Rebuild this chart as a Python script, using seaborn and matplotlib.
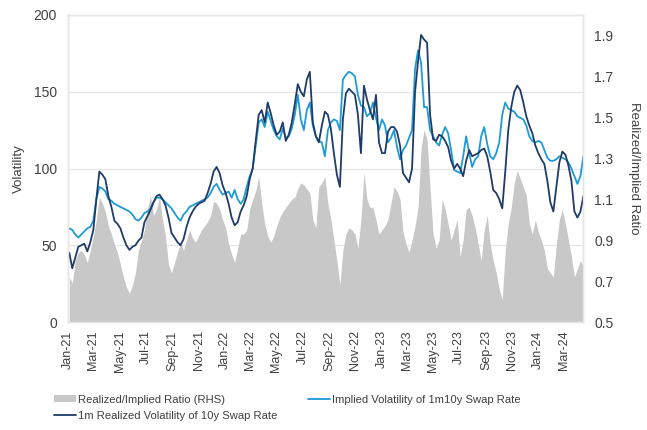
import numpy as np
import pandas as pd
import matplotlib
matplotlib.use("Agg")
import matplotlib.pyplot as plt
import matplotlib.dates as mdates
from matplotlib.patches import Patch
from matplotlib.lines import Line2D
import seaborn as sns

# ---------------- data (weekly) ----------------
start_date = "2021-01-04"

realized_vol = [
    45, 35, 42, 49, 50, 51, 46, 52, 60, 80, 98, 96, 93, 82, 75, 66, 64, 61, 55, 50,
    47, 49, 50, 53, 55, 65, 69, 73, 78, 82, 83, 80, 76, 68, 58, 55, 52, 50, 54, 62,
    68, 72, 75, 77, 78, 79, 84, 90, 98, 101, 97, 89, 84, 77, 68, 63, 65, 72, 76, 82,
    93, 100, 118, 135, 138, 130, 143, 136, 128, 122, 124, 130, 118, 122, 130, 142, 155, 150, 147, 158,
    163, 130, 121, 117, 128, 137, 135, 126, 110, 96, 88, 132, 149, 152, 150, 148, 135, 110, 154, 145,
    138, 132, 148, 117, 110, 110, 124, 127, 127, 124, 115, 97, 94, 91, 100, 150, 170, 187, 184, 182,
    135, 119, 118, 122, 121, 118, 114, 105, 100, 103, 100, 95, 105, 112, 108, 109, 110, 112, 113, 108,
    98, 86, 84, 80, 74, 98, 125, 140, 150, 154, 151, 143, 134, 128, 123, 115, 110, 106, 103, 92,
    78, 72, 88, 104, 111, 109, 102, 92, 72, 68, 72, 82,
]

implied_vol = [
    61, 60, 57, 55, 57, 59, 61, 62, 66, 80, 88, 87, 85, 80, 79, 77, 76, 75, 74, 73,
    72, 70, 67, 66, 68, 71, 72, 74, 78, 81, 81, 80, 78, 76, 74, 71, 68, 66, 70, 72,
    75, 76, 77, 78, 79, 80, 81, 84, 88, 90, 86, 83, 84, 85, 81, 86, 80, 77, 80, 88,
    95, 100, 115, 130, 132, 127, 137, 131, 125, 121, 119, 126, 120, 121, 126, 135, 148, 132, 125, 138,
    143, 128, 121, 118, 117, 108, 125, 130, 132, 131, 125, 158, 161, 163, 162, 160, 148, 141, 140, 134,
    136, 143, 133, 125, 132, 128, 117, 120, 125, 114, 106, 112, 115, 120, 125, 165, 177, 169, 140, 140,
    125, 121, 117, 115, 122, 127, 123, 112, 99, 98, 97, 108, 121, 110, 101, 106, 108, 121, 127, 116,
    108, 106, 110, 117, 135, 143, 139, 138, 137, 134, 133, 132, 128, 121, 118, 117, 118, 117, 112, 107,
    105, 105, 106, 108, 107, 106, 104, 100, 95, 90, 95, 108,
]

ratio_rhs = [
    0.72, 0.69, 0.80, 0.84, 0.85, 0.83, 0.79, 0.85, 0.92, 1.00, 1.11, 1.08, 1.04, 0.97, 0.93, 0.88, 0.84, 0.78, 0.72, 0.67,
    0.64, 0.68, 0.74, 0.85, 0.90, 0.95, 1.05, 1.12, 1.02, 1.05, 1.11, 1.00, 0.92, 0.78, 0.74, 0.79, 0.84, 0.89, 0.85, 0.90,
    0.95, 0.91, 0.89, 0.92, 0.95, 0.97, 0.99, 1.02, 1.09, 1.08, 1.05, 1.00, 0.96, 0.88, 0.83, 0.79, 0.86, 0.93, 0.93, 0.95,
    1.05, 1.10, 1.14, 1.21, 1.08, 0.98, 0.92, 0.89, 0.92, 0.97, 1.01, 1.04, 1.06, 1.08, 1.10, 1.11, 1.15, 1.18, 1.17, 1.15,
    1.13, 1.00, 0.96, 1.16, 1.18, 1.21, 1.08, 1.00, 0.90, 0.80, 0.68, 0.85, 0.93, 0.96, 0.95, 0.93, 0.86, 1.00, 1.23, 1.10,
    1.06, 1.06, 1.00, 0.93, 0.95, 0.97, 1.00, 1.08, 1.16, 1.14, 1.10, 0.94, 0.88, 0.84, 0.90, 0.97, 1.06, 1.35, 1.44, 1.39,
    1.15, 0.93, 0.86, 0.90, 1.10, 1.05, 0.98, 0.90, 0.95, 1.00, 0.82, 0.90, 1.05, 1.06, 1.02, 0.96, 0.88, 0.80, 0.95, 1.02,
    0.88, 0.80, 0.74, 0.66, 0.61, 0.85, 0.98, 1.06, 1.18, 1.24, 1.20, 1.16, 1.12, 0.98, 0.93, 1.00, 0.94, 0.90, 0.85, 0.76,
    0.74, 0.72, 0.88, 1.00, 1.05, 0.98, 0.90, 0.82, 0.72, 0.76, 0.80, 0.77,
]

label_ratio = "Realized/Implied Ratio (RHS)"
label_implied = "Implied Volatility of 1m10y Swap Rate"
label_realized = "1m Realized Volatility of 10y Swap Rate"
left_ticks = [0, 50, 100, 150, 200]
right_ticks = [0.5, 0.7, 0.9, 1.1, 1.3, 1.5, 1.7, 1.9]

n = min(len(realized_vol), len(implied_vol), len(ratio_rhs))
dates = pd.date_range(start_date, periods=n, freq="7D")
df = pd.DataFrame({
    "date": dates,
    "realized": realized_vol[:n],
    "implied": implied_vol[:n],
    "ratio": ratio_rhs[:n],
})

# ---------------- style ----------------
sns.set_theme(style="white")
plt.rcParams["font.family"] = ["Liberation Sans", "DejaVu Sans"]

C_GRAY = "#c8c8c8"
C_LIGHT = "#1e9bd7"
C_DARK = "#1f3b68"
C_TEXT = "#404040"
C_GRID = "#e6e6e6"

fig = plt.figure(figsize=(6.47, 4.30), dpi=100)
ax = fig.add_axes([68 / 647, 1 - 322 / 430, (583 - 68) / 647, (322 - 15) / 430])
ax2 = ax.twinx()   # ratio (RHS), gray area
ax3 = ax.twinx()   # volatility lines on left scale

# gray area on RHS
ax2.fill_between(df["date"], 0.5, df["ratio"], color=C_GRAY, linewidth=0)
ax2.set_ylim(0.5, 2.0)
ax2.set_yticks(right_ticks)
ax2.set_yticklabels([f"{t:.1f}" for t in right_ticks])
ax2.set_ylabel("Realized/Implied Ratio", rotation=270, labelpad=19, fontsize=9.5, color=C_TEXT)

# lines on left scale
sns.lineplot(data=df, x="date", y="implied", ax=ax3, color=C_LIGHT, linewidth=1.3)
sns.lineplot(data=df, x="date", y="realized", ax=ax3, color=C_DARK, linewidth=1.3)
ax3.set_ylim(0, 200)
ax3.set_yticks([])
ax3.set_ylabel("")
ax3.set_xlabel("")

# left axis
ax.set_ylim(0, 200)
ax.set_yticks(left_ticks)
ax.grid(axis="y", color=C_GRID, linewidth=0.9)
ax.grid(axis="x", visible=False)
ax.set_ylabel("Volatility", fontsize=9.5, color=C_TEXT, labelpad=6)

xmin, xmax = pd.Timestamp("2021-01-01"), pd.Timestamp("2024-04-14")
for a in (ax, ax2, ax3):
    a.set_xlim(xmin, xmax)
    for s in a.spines.values():
        s.set_color(C_GRID)
        s.set_linewidth(0.9)

ax.xaxis.set_major_locator(mdates.MonthLocator(bymonth=[1, 3, 5, 7, 9, 11]))
ax.xaxis.set_major_formatter(mdates.DateFormatter("%b-%y"))
ax.tick_params(axis="x", rotation=90, labelsize=9, colors=C_TEXT, length=3, color=C_GRID, pad=3)
ax.tick_params(axis="y", labelsize=10, colors=C_TEXT, length=0, pad=8)
ax2.tick_params(axis="y", labelsize=10, colors=C_TEXT, length=0, pad=8)
for a in (ax2, ax3):
    a.tick_params(axis="x", bottom=False, labelbottom=False)

handles = [
    Patch(facecolor=C_GRAY, edgecolor="none"),
    Line2D([], [], color=C_DARK, linewidth=1.3),
    Line2D([], [], color=C_LIGHT, linewidth=1.3),
]
labels = [label_ratio, label_realized, label_implied]
fig.legend(handles, labels, loc="upper left", bbox_to_anchor=(48 / 647, 1 - 389 / 430),
           ncol=2, frameon=False, fontsize=8.1, handlelength=2.0, handleheight=0.6,
           handletextpad=0.15, columnspacing=2.7, labelspacing=0.55, borderpad=0,
           labelcolor=C_TEXT)

fig.savefig("out.png", dpi=100)
